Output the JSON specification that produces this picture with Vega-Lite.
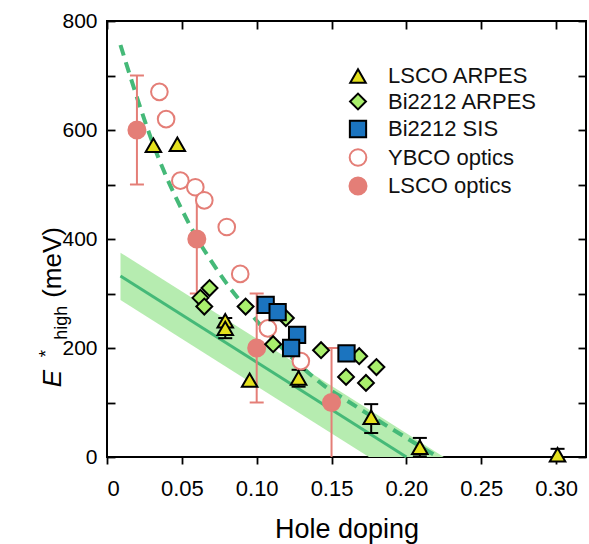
{
  "$schema": "https://vega.github.io/schema/vega-lite/v6.json",
  "width": 479,
  "height": 436,
  "autosize": {"type": "none"},
  "padding": {"left": 107, "top": 21, "right": 3, "bottom": 87},
  "background": "white",
  "config": {
    "font": "Liberation Sans",
    "view": {"stroke": "#000000", "strokeWidth": 2},
    "axis": {"grid": false, "domain": false, "ticks": true, "tickOpacity": 1, "zindex": 1, "tickColor": "#000000", "tickWidth": 1.8, "labelColor": "#000000", "titleColor": "#000000", "labelFont": "Liberation Sans", "titleFont": "Liberation Sans"}
  },
  "datasets": {
    "points": [
      {"series": "LSCO optics", "x": 0.02, "y": 600},
      {"series": "LSCO optics", "x": 0.06, "y": 400},
      {"series": "LSCO optics", "x": 0.1, "y": 200},
      {"series": "LSCO optics", "x": 0.15, "y": 100},
      {"series": "YBCO optics", "x": 0.035, "y": 670},
      {"series": "YBCO optics", "x": 0.0395, "y": 620},
      {"series": "YBCO optics", "x": 0.049, "y": 507},
      {"series": "YBCO optics", "x": 0.059, "y": 495},
      {"series": "YBCO optics", "x": 0.065, "y": 471},
      {"series": "YBCO optics", "x": 0.08, "y": 422},
      {"series": "YBCO optics", "x": 0.089, "y": 336},
      {"series": "YBCO optics", "x": 0.1075, "y": 236},
      {"series": "YBCO optics", "x": 0.1295, "y": 176},
      {"series": "Bi2212 ARPES", "x": 0.0685, "y": 310},
      {"series": "Bi2212 ARPES", "x": 0.0624, "y": 292},
      {"series": "Bi2212 ARPES", "x": 0.065, "y": 276},
      {"series": "Bi2212 ARPES", "x": 0.0926, "y": 276},
      {"series": "Bi2212 ARPES", "x": 0.1195, "y": 255},
      {"series": "Bi2212 ARPES", "x": 0.111, "y": 207},
      {"series": "Bi2212 ARPES", "x": 0.143, "y": 196},
      {"series": "Bi2212 ARPES", "x": 0.1685, "y": 185},
      {"series": "Bi2212 ARPES", "x": 0.18, "y": 165},
      {"series": "Bi2212 ARPES", "x": 0.1597, "y": 147},
      {"series": "Bi2212 ARPES", "x": 0.173, "y": 136},
      {"series": "Bi2212 SIS", "x": 0.106, "y": 279},
      {"series": "Bi2212 SIS", "x": 0.114, "y": 266},
      {"series": "Bi2212 SIS", "x": 0.127, "y": 224},
      {"series": "Bi2212 SIS", "x": 0.123, "y": 200},
      {"series": "Bi2212 SIS", "x": 0.16, "y": 190},
      {"series": "LSCO ARPES", "x": 0.031, "y": 572},
      {"series": "LSCO ARPES", "x": 0.047, "y": 574},
      {"series": "LSCO ARPES", "x": 0.079, "y": 250},
      {"series": "LSCO ARPES", "x": 0.079, "y": 236},
      {"series": "LSCO ARPES", "x": 0.0953, "y": 141},
      {"series": "LSCO ARPES", "x": 0.128, "y": 145},
      {"series": "LSCO ARPES", "x": 0.1765, "y": 73},
      {"series": "LSCO ARPES", "x": 0.209, "y": 18},
      {"series": "LSCO ARPES", "x": 0.301, "y": 4}
    ],
    "errors": [
      {"series": "LSCO optics", "x": 0.02, "lo": 500, "hi": 700},
      {"series": "LSCO optics", "x": 0.06, "lo": 300, "hi": 500},
      {"series": "LSCO optics", "x": 0.1, "lo": 100, "hi": 300},
      {"series": "LSCO optics", "x": 0.15, "lo": 0, "hi": 200},
      {"series": "LSCO ARPES", "x": 0.079, "lo": 218, "hi": 255},
      {"series": "LSCO ARPES", "x": 0.128, "lo": 129, "hi": 160},
      {"series": "LSCO ARPES", "x": 0.1765, "lo": 44, "hi": 97},
      {"series": "LSCO ARPES", "x": 0.209, "lo": 1, "hi": 35},
      {"series": "LSCO ARPES", "x": 0.301, "lo": -8, "hi": 15}
    ],
    "dashed": [
      {"x": 0.009, "y": 756}, {"x": 0.02, "y": 660}, {"x": 0.03, "y": 580},
      {"x": 0.04, "y": 512}, {"x": 0.05, "y": 454}, {"x": 0.06, "y": 402},
      {"x": 0.07, "y": 358}, {"x": 0.08, "y": 318}, {"x": 0.09, "y": 283},
      {"x": 0.1, "y": 250}, {"x": 0.12, "y": 192}, {"x": 0.145, "y": 131},
      {"x": 0.16, "y": 104}, {"x": 0.18, "y": 69}, {"x": 0.2, "y": 35},
      {"x": 0.221, "y": 0}
    ],
    "solid": [{"x": 0.009, "y": 332}, {"x": 0.2, "y": 0}],
    "band": [
      {"x": 0.009, "lo": 288, "hi": 375},
      {"x": 0.175, "lo": 0, "hi": 87},
      {"x": 0.225, "lo": 0, "hi": 0}
    ]
  },
  "resolve": {"axis": {"x": "independent", "y": "independent"}},
  "layer": [
    {
      "data": {"name": "band"},
      "mark": {"type": "area", "color": "#b6ecb0", "opacity": 1},
      "encoding": {
        "x": {"field": "x", "type": "quantitative", "scale": {"domain": [0, 0.32], "nice": false, "zero": false},
          "axis": {"orient": "bottom", "values": [0, 0.05, 0.1, 0.15, 0.2, 0.25, 0.3], "labelExpr": "datum.value == 0 ? '0' : format(datum.value, '.2f')", "ticks": true, "tickSize": 7, "labelFontSize": 22, "labelPadding": 14, "title": "Hole doping", "titleFontSize": 27, "titleFontWeight": "normal", "titlePadding": 17}},
        "y": {"field": "lo", "type": "quantitative", "scale": {"domain": [0, 800], "nice": false},
          "axis": {"orient": "left", "values": [0, 200, 400, 600, 800], "ticks": false, "labelFontSize": 21, "labelPadding": 10, "title": null}},
        "y2": {"field": "hi"}
      }
    },
    {
      "data": {"name": "solid"},
      "mark": {"type": "line", "color": "#45b978", "strokeWidth": 3},
      "encoding": {
        "x": {"field": "x", "type": "quantitative", "scale": {"domain": [0, 0.32], "nice": false, "zero": false},
          "axis": {"orient": "top", "values": [0, 0.05, 0.1, 0.15, 0.2, 0.25, 0.3], "labels": false, "ticks": true, "tickSize": -8, "title": null}},
        "y": {"field": "y", "type": "quantitative", "scale": {"domain": [0, 800], "nice": false},
          "axis": {"orient": "right", "values": [0, 100, 200, 300, 400, 500, 600, 700, 800], "labels": false, "ticks": true, "tickSize": -8, "title": null}}
      }
    },
    {
      "data": {"name": "dashed"},
      "mark": {"type": "line", "color": "#45b978", "strokeWidth": 4, "strokeDash": [11, 7], "interpolate": "monotone"},
      "encoding": {
        "x": {"field": "x", "type": "quantitative", "scale": {"domain": [0, 0.32], "nice": false, "zero": false}, "axis": null},
        "y": {"field": "y", "type": "quantitative", "scale": {"domain": [0, 800], "nice": false},
          "axis": {"orient": "left", "values": [0, 100, 200, 300, 400, 500, 600, 700, 800], "labels": false, "ticks": true, "tickSize": -8, "title": null}}
      }
    },
    {
      "data": {"name": "errors"},
      "mark": {"type": "rule", "strokeWidth": 2, "clip": true},
      "encoding": {
        "x": {"field": "x", "type": "quantitative", "scale": {"domain": [0, 0.32], "nice": false, "zero": false}, "axis": null},
        "y": {"field": "lo", "type": "quantitative", "scale": {"domain": [0, 800], "nice": false}, "axis": null},
        "y2": {"field": "hi"},
        "color": {"field": "series", "type": "nominal", "scale": {"domain": ["LSCO ARPES", "LSCO optics"], "range": ["#000000", "#e47e77"]}, "legend": null}
      }
    },
    {
      "data": {"name": "errors"},
      "transform": [
        {"fold": ["lo", "hi"], "as": ["end", "v"]},
        {"filter": "datum.v > 0"}
      ],
      "mark": {"type": "tick", "orient": "horizontal", "size": 14, "thickness": 2, "opacity": 1},
      "encoding": {
        "x": {"field": "x", "type": "quantitative", "scale": {"domain": [0, 0.32], "nice": false, "zero": false}, "axis": null},
        "y": {"field": "v", "type": "quantitative", "scale": {"domain": [0, 800], "nice": false}, "axis": null},
        "color": {"field": "series", "type": "nominal", "scale": {"domain": ["LSCO ARPES", "LSCO optics"], "range": ["#000000", "#e47e77"]}, "legend": null}
      }
    },
    {
      "data": {"name": "points"},
      "mark": {"type": "point", "filled": true, "strokeWidth": 2, "opacity": 1},
      "encoding": {
        "x": {"field": "x", "type": "quantitative", "scale": {"domain": [0, 0.32], "nice": false, "zero": false}, "axis": null},
        "y": {"field": "y", "type": "quantitative", "scale": {"domain": [0, 800], "nice": false}, "axis": null},
        "shape": {"field": "series", "type": "nominal",
          "scale": {"domain": ["LSCO ARPES", "Bi2212 ARPES", "Bi2212 SIS", "YBCO optics", "LSCO optics"], "range": ["triangle-up", "diamond", "square", "circle", "circle"]},
          "legend": {"title": null, "orient": "none", "legendX": 240, "legendY": 44, "labelFontSize": 22, "labelFont": "Liberation Sans", "labelColor": "#111111", "rowPadding": 2.5, "labelOffset": 19, "symbolStrokeWidth": 2}},
        "fill": {"field": "series", "type": "nominal",
          "scale": {"domain": ["LSCO ARPES", "Bi2212 ARPES", "Bi2212 SIS", "YBCO optics", "LSCO optics"], "range": ["#e4e01d", "#a9ef6c", "#1b74bf", "#ffffff", "#e47e77"]},
          "legend": {"title": null, "orient": "none", "legendX": 240, "legendY": 44, "labelFontSize": 22, "labelFont": "Liberation Sans", "labelColor": "#111111", "rowPadding": 2.5, "labelOffset": 19, "symbolStrokeWidth": 2}},
        "stroke": {"field": "series", "type": "nominal",
          "scale": {"domain": ["LSCO ARPES", "Bi2212 ARPES", "Bi2212 SIS", "YBCO optics", "LSCO optics"], "range": ["#000000", "#000000", "#000000", "#e47e77", "#e47e77"]},
          "legend": {"title": null, "orient": "none", "legendX": 240, "legendY": 44, "labelFontSize": 22, "labelFont": "Liberation Sans", "labelColor": "#111111", "rowPadding": 2.5, "labelOffset": 19, "symbolStrokeWidth": 2}},
        "size": {"field": "series", "type": "nominal",
          "scale": {"domain": ["LSCO ARPES", "Bi2212 ARPES", "Bi2212 SIS", "YBCO optics", "LSCO optics"], "range": [240, 290, 220, 200, 240]},
          "legend": {"title": null, "orient": "none", "legendX": 240, "legendY": 44, "labelFontSize": 22, "labelFont": "Liberation Sans", "labelColor": "#111111", "rowPadding": 2.5, "labelOffset": 19, "symbolStrokeWidth": 2}}
      }
    },
    {
      "data": {"values": [{}]},
      "mark": {"type": "text", "fontSize": 26, "fontStyle": "italic", "angle": 270, "align": "left", "baseline": "middle", "color": "#000000"},
      "encoding": {
        "x": {"datum": -0.0361, "type": "quantitative", "scale": {"domain": [0, 0.32], "nice": false, "zero": false}, "axis": null},
        "y": {"datum": 128, "type": "quantitative", "scale": {"domain": [0, 800], "nice": false}, "axis": null},
        "text": {"value": "E"}
      }
    },
    {
      "data": {"values": [{}]},
      "mark": {"type": "text", "fontSize": 19, "angle": 270, "align": "left", "baseline": "middle", "dy": -7, "color": "#000000"},
      "encoding": {
        "x": {"datum": -0.0361, "type": "quantitative", "scale": {"domain": [0, 0.32], "nice": false, "zero": false}, "axis": null},
        "y": {"datum": 183, "type": "quantitative", "scale": {"domain": [0, 800], "nice": false}, "axis": null},
        "text": {"value": "*"}
      }
    },
    {
      "data": {"values": [{}]},
      "mark": {"type": "text", "fontSize": 18, "angle": 270, "align": "left", "baseline": "middle", "dy": 9, "color": "#000000"},
      "encoding": {
        "x": {"datum": -0.0361, "type": "quantitative", "scale": {"domain": [0, 0.32], "nice": false, "zero": false}, "axis": null},
        "y": {"datum": 215, "type": "quantitative", "scale": {"domain": [0, 800], "nice": false}, "axis": null},
        "text": {"value": "high"}
      }
    },
    {
      "data": {"values": [{}]},
      "mark": {"type": "text", "fontSize": 26, "angle": 270, "align": "left", "baseline": "middle", "color": "#000000"},
      "encoding": {
        "x": {"datum": -0.0361, "type": "quantitative", "scale": {"domain": [0, 0.32], "nice": false, "zero": false}, "axis": null},
        "y": {"datum": 292, "type": "quantitative", "scale": {"domain": [0, 800], "nice": false}, "axis": null},
        "text": {"value": "(meV)"}
      }
    }
  ]
}
